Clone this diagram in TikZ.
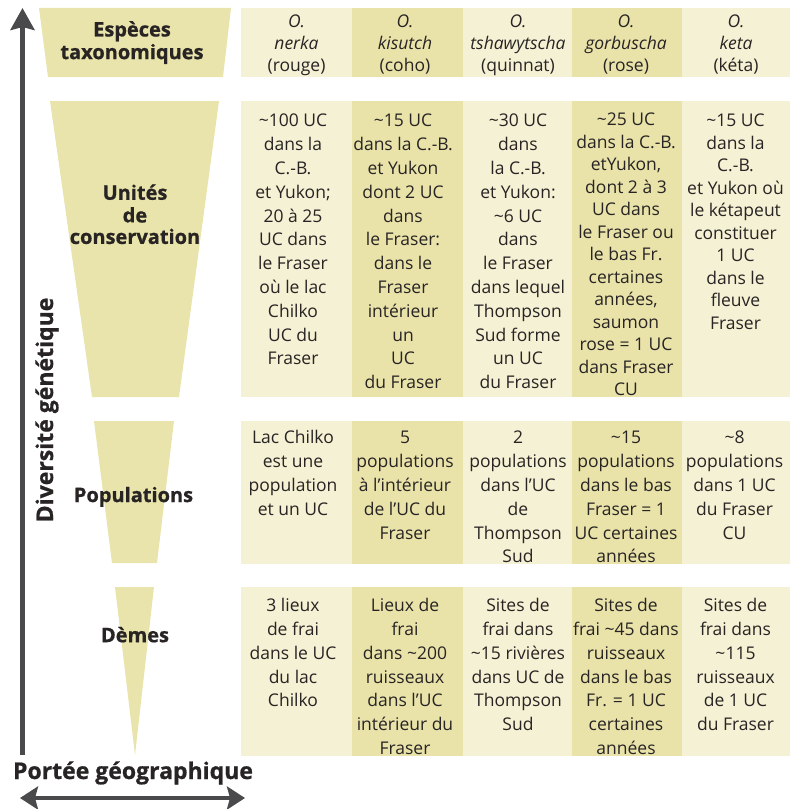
\documentclass[tikz,border=0pt]{standalone}
\usepackage{fontspec}
\setmainfont{Open Sans}
\usetikzlibrary{arrows.meta}
\definecolor{cellLight}{RGB}{244,241,212}
\definecolor{cellDark}{RGB}{233,227,170}
\definecolor{funnelc}{RGB}{233,228,171}
\definecolor{inkc}{RGB}{40,36,36}
\definecolor{axisc}{RGB}{74,74,76}
\newcommand{\mytld}{\textasciitilde}
\newcommand{\cellfontA}{\fontsize{17.5bp}{23.8bp}\selectfont}
\newcommand{\cellfontB}{\fontsize{17.5bp}{22.5bp}\selectfont}
\newcommand{\headfont}{\fontsize{17.5bp}{21.7bp}\selectfont}
\newcommand{\labfont}{\fontsize{20bp}{21.5bp}\selectfont\bfseries\addfontfeatures{FakeBold=0.8}}
\newcommand{\axfont}{\fontsize{23bp}{26bp}\selectfont\bfseries\addfontfeatures{FakeBold=0.8}}
\begin{document}
\begin{tikzpicture}[x=1bp,y=-1bp,
  celltext/.style={anchor=north, inner sep=0pt, align=center, text=inkc},
  labtext/.style={anchor=north, inner sep=0pt, align=center, text=inkc, font=\labfont},
  axisline/.style={draw=axisc, line width=4.5bp},
  axistext/.style={anchor=base, inner sep=0pt, text=inkc, font=\axfont}]
\useasboundingbox (0,0) rectangle (790,809);

% ---- cell backgrounds
\foreach \ya/\yb in {8/77, 101/397, 421/564, 587/756}{
  \fill[cellLight] (241,\ya) rectangle (352,\yb);
  \fill[cellDark]  (352,\ya) rectangle (463,\yb);
  \fill[cellLight] (463,\ya) rectangle (572,\yb);
  \fill[cellDark]  (572,\ya) rectangle (682,\yb);
  \fill[cellLight] (682,\ya) rectangle (790,\yb);
}

% ---- funnels
\fill[funnelc] (39,8) -- (231,8) -- (223,77) -- (48,77) -- cycle;
\fill[funnelc] (50,101) -- (219,101) -- (179,397) -- (92,397) -- cycle;
\fill[funnelc] (94,421) -- (174,421) -- (157,563) -- (112,563) -- cycle;
\fill[funnelc] (115,587) -- (154,587) -- (135,755) -- cycle;

% ---- level labels
\node[labtext] (lEsp) at (132,20.95) {\strut Espèces\\taxonomiques};
\node[labtext] (lUC) at (135,184.25) {\strut Unités\\de\\conservation};
\node[labtext] (lPop) at (133.5,486.65) {\strut Populations};
\node[labtext] (lDem) at (135,626.65) {\strut Dèmes};

% ---- header row
\node[celltext, font=\headfont] (h1) at (296.5,12.31) {\strut\textit{O.}\\\textit{nerka}\\(rouge)};
\node[celltext, font=\headfont] (h2) at (405,12.31) {\strut\textit{O.}\\\textit{kisutch}\\(coho)};
\node[celltext, font=\headfont] (h3) at (518,12.31) {\strut\textit{O.}\\\textit{tshawytscha}\\(quinnat)};
\node[celltext, font=\headfont] (h4) at (626,12.31) {\strut\textit{O.}\\\textit{gorbuscha}\\(rose)};
\node[celltext, font=\headfont] (h5) at (736,12.31) {\strut\textit{O.}\\\textit{keta}\\(kéta)};

% ---- conservation units row
\node[celltext, font=\cellfontA] (u1) at (293,110.0) {\strut\mytld100 UC\\dans la\\C.-B.\\et Yukon;\\20 à 25\\UC dans\\le Fraser\\où le lac\\Chilko\\UC du\\Fraser};
\node[celltext, font=\cellfontA] (u2) at (403,110.0) {\strut\mytld15 UC\\dans la C.-B.\\et Yukon\\dont 2 UC\\dans\\le Fraser:\\dans le\\Fraser\\intérieur\\un\\UC\\du Fraser};
\node[celltext, font=\cellfontA] (u3) at (518,110.0) {\strut\mytld30 UC\\dans\\la C.-B.\\et Yukon:\\\mytld6 UC\\dans\\le Fraser\\dans lequel\\Thompson\\Sud forme\\un UC\\du Fraser};
\node[celltext, font=\cellfontB] (u4) at (626,109.95) {\strut\mytld25 UC\\dans la C.-B.\\etYukon,\\dont 2 à 3\\UC dans\\le Fraser ou\\le bas Fr.\\certaines\\années,\\saumon\\rose = 1 UC\\dans Fraser\\CU};
\node[celltext, font=\cellfontB] (u5) at (735.5,110.95) {\strut\mytld15 UC\\dans la\\C.-B.\\et Yukon où\\le kétapeut\\constituer\\1 UC\\dans le\\fleuve\\Fraser};

% ---- populations row
\node[celltext, font=\cellfontA] (p1) at (293,427.0) {\strut Lac Chilko\\est une\\population\\et un UC};
\node[celltext, font=\cellfontA] (p2) at (405,427.0) {\strut 5\\populations\\à l’intérieur\\de l’UC du\\Fraser};
\node[celltext, font=\cellfontA] (p3) at (518,427.0) {\strut 2\\populations\\dans l’UC\\de\\Thompson\\Sud};
\node[celltext, font=\cellfontA] (p4) at (626,427.0) {\strut\mytld15\\populations\\dans le bas\\Fraser = 1\\UC certaines\\années};
\node[celltext, font=\cellfontA] (p5) at (734.5,427.0) {\strut\mytld8\\populations\\dans 1 UC\\du Fraser\\CU};

% ---- demes row
\node[celltext, font=\cellfontA] (d1) at (293,594.8) {\strut 3 lieux\\de frai\\dans le UC\\du lac\\Chilko};
\node[celltext, font=\cellfontA] (d2) at (405,594.8) {\strut Lieux de\\frai\\dans \mytld200\\ruisseaux\\dans l’UC\\intérieur du\\Fraser};
\node[celltext, font=\cellfontA] (d3) at (518,594.8) {\strut Sites de\\frai dans\\\mytld15 rivières\\dans UC de\\Thompson\\Sud};
\node[celltext, font=\cellfontA] (d4) at (626,594.8) {\strut Sites de\\frai \mytld45 dans\\ruisseaux\\dans le bas\\Fr. = 1 UC\\certaines\\années};
\node[celltext, font=\cellfontA] (d5) at (735.5,594.8) {\strut Sites de\\frai dans\\\mytld115\\ruisseaux\\de 1 UC\\du Fraser};

% ---- axes
\coordinate (vBot) at (22.5,755);
\coordinate (vTop) at (22.5,8);
\coordinate (hL) at (20,798);
\coordinate (hR) at (245,798);
\draw[axisline, -{Stealth[length=22bp,width=24bp,inset=3bp]}] (vBot) -- (vTop);
\draw[axisline, {Stealth[length=18bp,width=23bp,inset=3bp]}-{Stealth[length=18bp,width=23bp,inset=3bp]}] (hL) -- (hR);
\node[axistext, rotate=90] (lDiv) at (53,410) {Diversité génétique};
\node[axistext] (lGeo) at (133,779) {Portée géographique};
\end{tikzpicture}
\end{document}
